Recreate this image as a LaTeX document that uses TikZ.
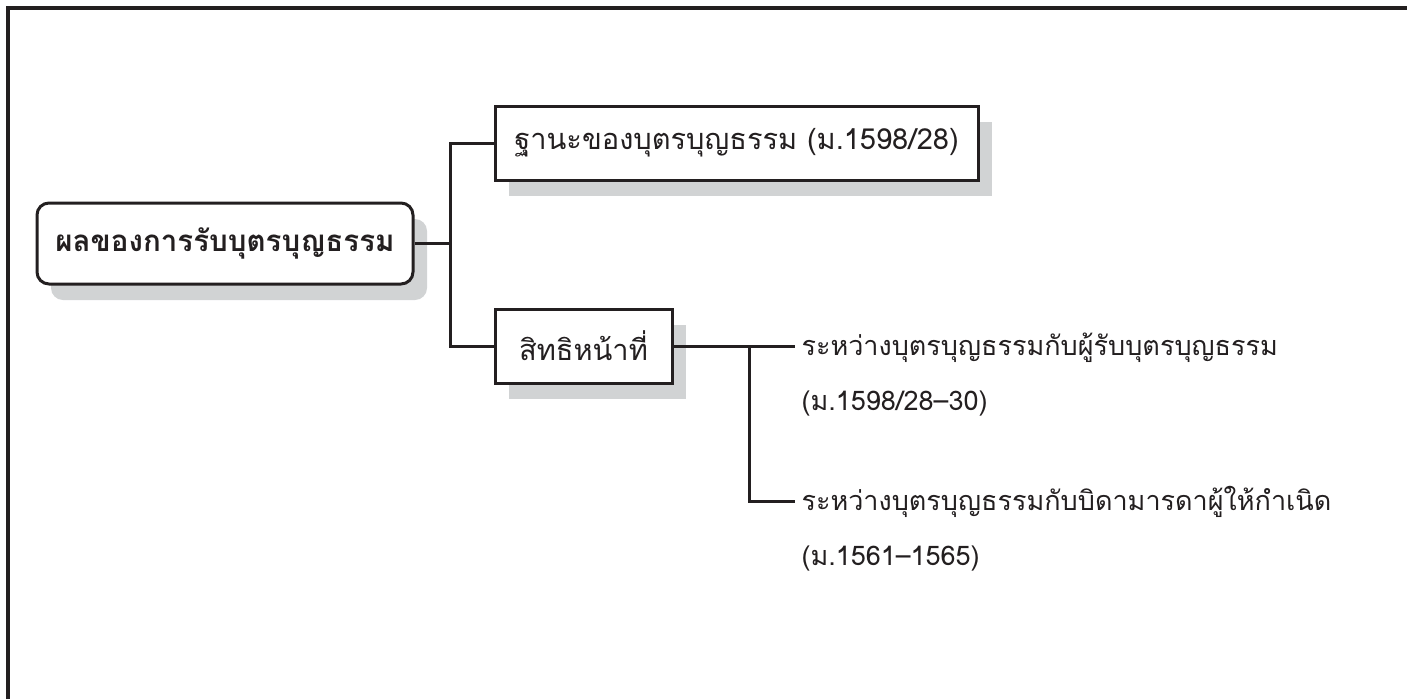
\documentclass[tikz,border=0pt]{standalone}
\usepackage{fontspec}
\setmainfont[Script=Thai]{Loma}
\usetikzlibrary{shadows}
\definecolor{inkblack}{RGB}{35,31,32}
\definecolor{shadowgray}{RGB}{209,211,212}

\begin{document}
\begin{tikzpicture}[x=1pt,y=-1pt,
    line width=3pt, draw=inkblack,
    mainbox/.style={draw=inkblack, fill=white, rounded corners=12pt,
        minimum width=376pt, minimum height=81pt, inner sep=0pt,
        font=\fontsize{29.5}{36}\selectfont\bfseries, text=inkblack,
        general shadow={fill=shadowgray, shadow xshift=14pt, shadow yshift=-16pt}},
    subbox/.style={draw=inkblack, fill=white, minimum height=74pt, inner sep=0pt,
        font=\fontsize{29}{36}\selectfont, text=inkblack,
        general shadow={fill=shadowgray, shadow xshift=14pt, shadow yshift=-16pt}},
    itemtext/.style={anchor=base west, align=left, text width=560pt, inner sep=0pt,
        xshift=5pt, yshift=-9pt, text=inkblack,
        font=\fontsize{27}{55}\selectfont}]
    \useasboundingbox (0,0) rectangle (1407,699);
    % frame, only top and left
    \draw[line width=4pt] (7.5,699) -- (7.5,8) -- (1407,8);
    % boxes
    \node[mainbox] (effect) at (225,243.5) {ผลของการรับบุตรบุญธรรม};
    \node[subbox, minimum width=483pt] (status) at (736.5,143) {ฐานะของบุตรบุญธรรม (ม.1598/28)};
    \node[subbox, minimum width=177pt] (rights) at (583.5,346) {สิทธิหน้าที่};
    \coordinate (fork) at (450,243.5);
    \coordinate (split) at (749,346);
    \coordinate (adoptend) at (795,346);
    \coordinate (birthend) at (795,501);
    % connectors
    \draw (effect.east) -- (fork);
    \draw (status.west) -| (fork) |- (rights.west);
    \draw (rights.east) -- (adoptend);
    \draw (split) |- (birthend);
    % right hand items
    \node[itemtext] (adopt) at (adoptend) {ระหว่างบุตรบุญธรรมกับผู้รับบุตรบุญธรรม\\(ม.1598/28–30)};
    \node[itemtext] (birth) at (birthend) {ระหว่างบุตรบุญธรรมกับบิดามารดาผู้ให้กำเนิด\\(ม.1561–1565)};
\end{tikzpicture}
\end{document}
